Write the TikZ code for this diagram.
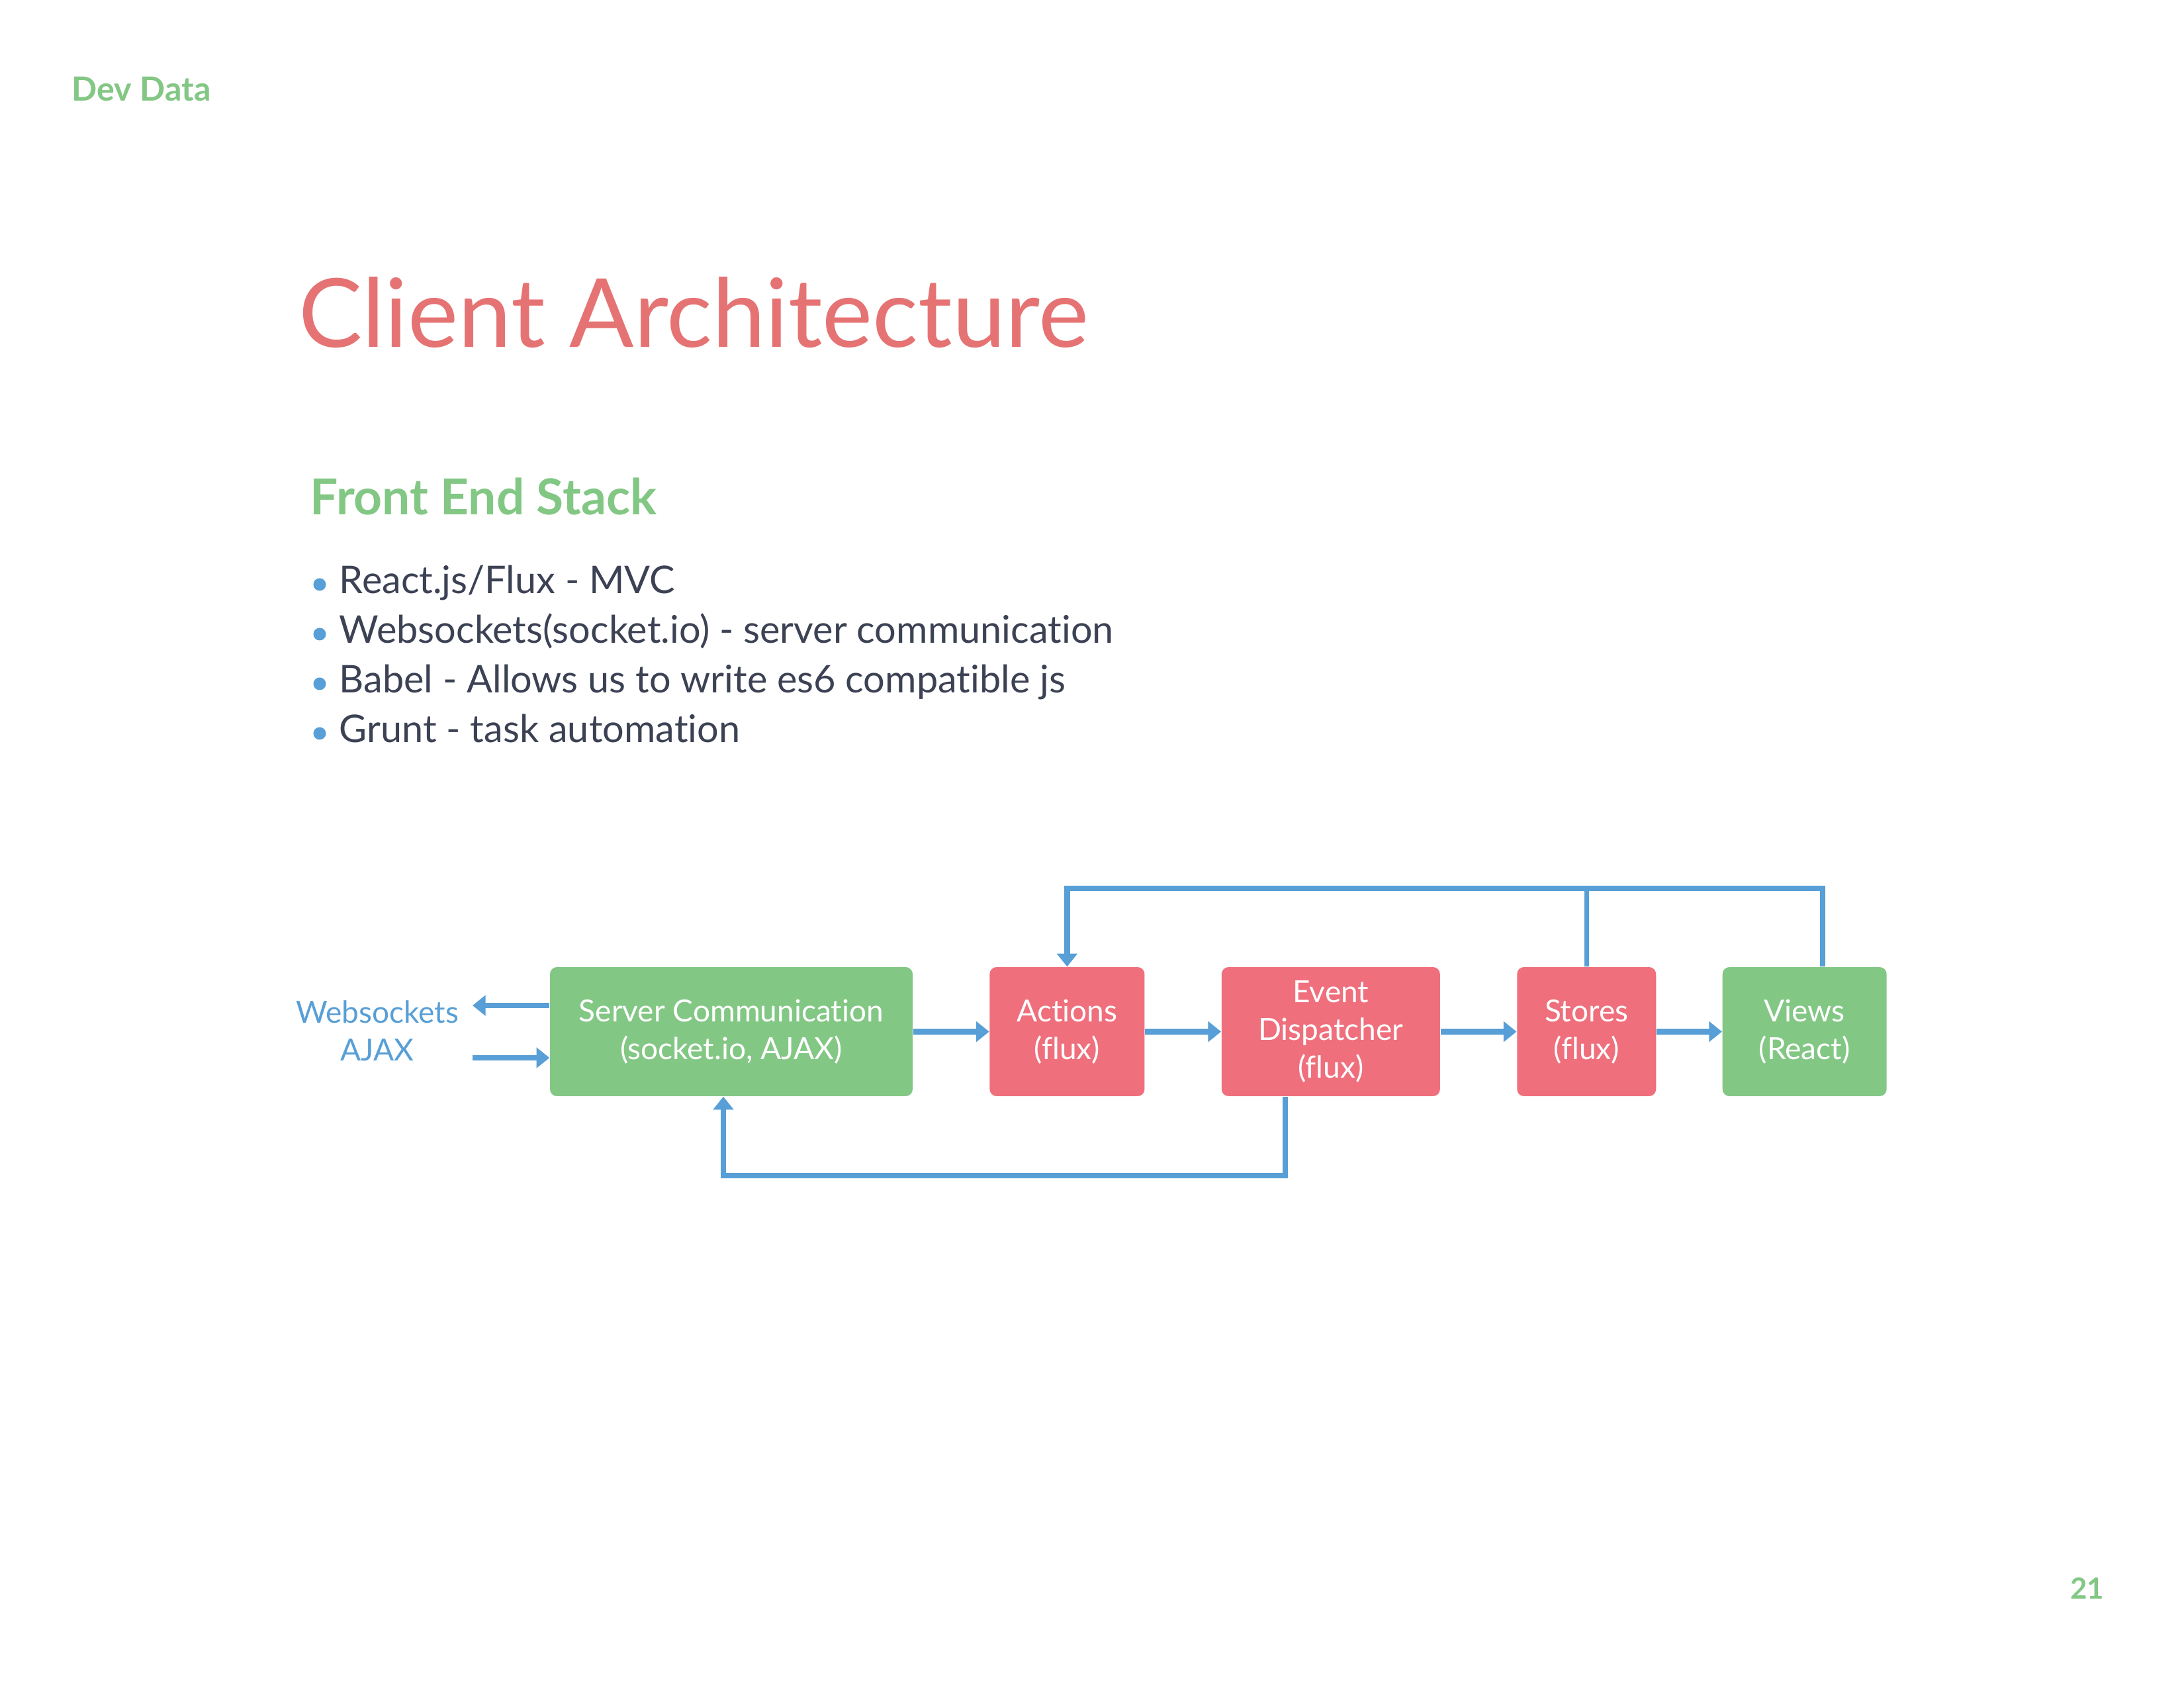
\documentclass[tikz,border=0pt]{standalone}
\usepackage{fontspec}
\setmainfont{Lato}[Ligatures=NoCommon]
\usepackage{tikz}
\usetikzlibrary{positioning,arrows.meta}
\usepackage{xcolor}
\definecolor{boxgreen}{RGB}{131,199,133}
\definecolor{boxred}{RGB}{239,111,125}
\definecolor{titlered}{RGB}{230,115,115}
\definecolor{lineblue}{RGB}{87,159,214}
\definecolor{textdark}{RGB}{60,66,84}

\begin{document}
\begin{tikzpicture}[%
    >={Triangle[length=5.6pt,width=8.6pt]},
    node distance=1.15cm,
    link/.style={%
      ->,
      color=lineblue,
      line width=2.4pt
    },
    block/.style={%
      rectangle,
      rounded corners=3pt,
      inner sep=0pt,
      minimum height=1.95cm,
      text=white,
      align=center,
      font=\fontsize{13.1}{16.2}\selectfont
    },
    greenbox/.style={block, fill=boxgreen},
    redbox/.style={block, fill=boxred},
    slidetext/.style={anchor=base west, inner sep=0pt},
    bullet/.style={slidetext, text=textdark, font=\fontsize{16.4}{20}\selectfont}
  ]
    \useasboundingbox[fill=white] (0,0) rectangle (33,25.5);

    % slide text
    \node[slidetext, text=boxgreen, font=\fontsize{14.3}{17}\selectfont\bfseries] (brand) at (1.08,23.97) {Dev Data};
    \node[slidetext, text=titlered, font=\fontsize{41}{48}\selectfont] (title) at (4.51,20.25) {Client Architecture};
    \node[slidetext, text=boxgreen, font=\fontsize{21.3}{25}\selectfont\bfseries] (stack) at (4.68,17.72) {Front End Stack};
    \node[bullet] (b1) at (5.12,16.53) {React.js/Flux - MVC};
    \node[bullet] (b2) at (5.12,15.78) {Websockets(socket.io) - server communication};
    \node[bullet] (b3) at (5.12,15.03) {Babel - Allows us to write es6 compatible js};
    \node[bullet] (b4) at (5.12,14.28) {Grunt - task automation};
    \foreach \y in {16.67,15.92,15.17,14.42}
      \fill[lineblue] (4.83,\y) circle (0.095);
    \node[anchor=base east, inner sep=0pt, text=boxgreen, font=\fontsize{12.5}{15}\selectfont\bfseries] (page) at (31.80,1.34) {21};

    % diagram
    \node[greenbox, minimum width=5.48cm] (serv) at (11.05,9.915) {Server Communication\\(socket.io, AJAX)};
    \node[redbox, minimum width=2.34cm]   (act)  [right=of serv]  {Actions\\(flux)};
    \node[redbox, minimum width=3.30cm]   (disp) [right=of act]   {Event\\Dispatcher\\(flux)};
    \node[redbox, minimum width=2.10cm]   (store) [right=of disp] {Stores\\(flux)};
    \node[greenbox, minimum width=2.48cm] (view) [node distance=0.99cm, right=of store] {Views\\(React)};

    \node[text=lineblue, align=center, font=\fontsize{13.1}{16.2}\selectfont] (ws) at (5.70,9.93) {Websockets\\AJAX};

    \coordinate (wsout) at (7.14,10.31);
    \coordinate (wsin)  at (7.14,9.52);
    \coordinate (vtop)  at (27.54,12.08);
    \coordinate (dbot)  at (19.42,7.74);
    \coordinate (sbot)  at (10.93,7.74);

    \draw[link] (serv.west |- wsout) -- (wsout);
    \draw[link] (wsin) -- (serv.west |- wsin);
    \draw[link] (serv) -- (act);
    \draw[link] (act) -- (disp);
    \draw[link] (disp) -- (store);
    \draw[link] (store) -- (view);

    \draw[link] (vtop |- view.north) -- (vtop) -| (act.north);
    \draw[link, -, line width=2.1pt] (store.north) -- (store.north |- vtop);
    \draw[link] (dbot |- disp.south) -- (dbot) -- (sbot) -- (sbot |- serv.south);
  \end{tikzpicture}
\end{document}
